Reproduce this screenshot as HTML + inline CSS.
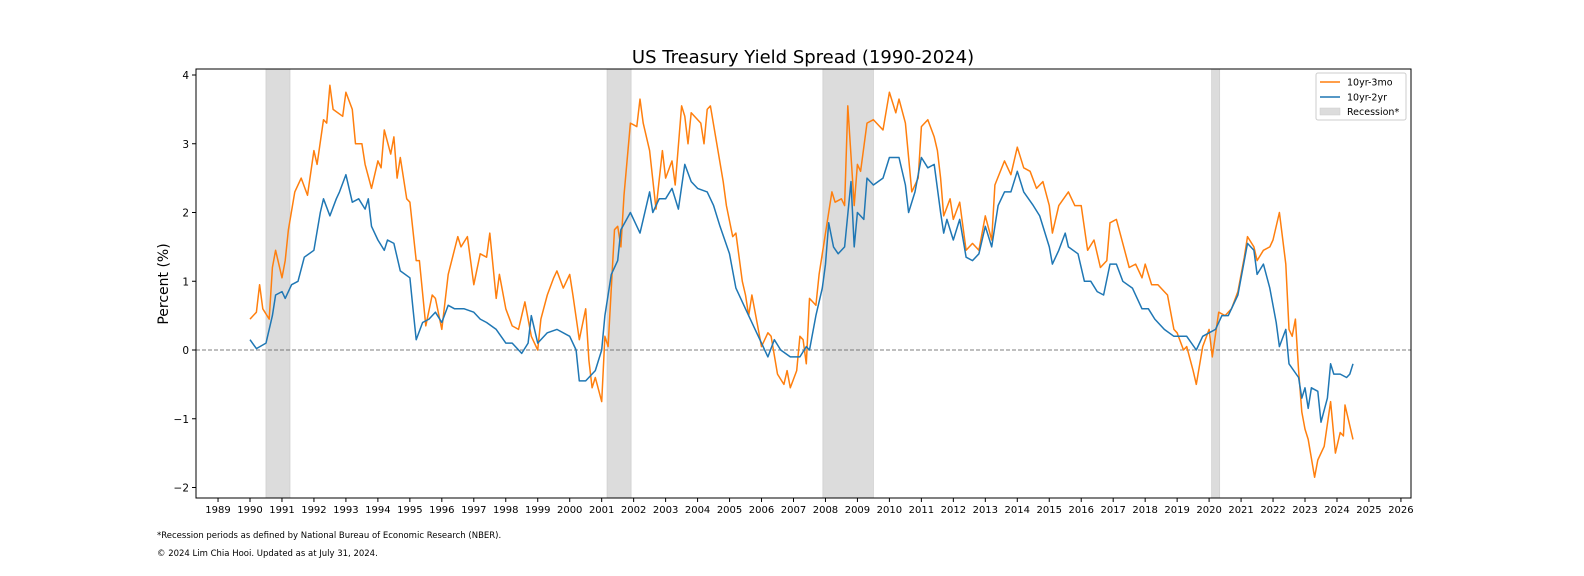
<!DOCTYPE html>
<html><head><meta charset="utf-8"><style>
html,body{margin:0;padding:0;background:#fff;overflow:hidden;width:1584px;height:576px}
svg{display:block}
svg text{font-family:"DejaVu Sans","Liberation Sans",sans-serif}
</style></head><body>
<svg id="chart" width="1584" height="576" xmlns="http://www.w3.org/2000/svg">
<rect width="1584" height="576" fill="#fff"/>
<text x="803" y="63" font-size="18" text-anchor="middle">US Treasury Yield Spread (1990-2024)</text>
<text transform="translate(168,284) rotate(-90)" font-size="14" text-anchor="middle">Percent (%)</text>
<g id="rec"></g><g id="grid"></g><g id="lines"></g><g id="axes"></g>
<g>
<rect x="1316" y="73" width="90" height="47" fill="#fff" stroke="#ccc" rx="2"/>
<line x1="1320" y1="82" x2="1340" y2="82" stroke="#ff7f0e" stroke-width="1.5"/><text x="1347" y="85.5" font-size="9.5">10yr-3mo</text>
<line x1="1320" y1="97" x2="1340" y2="97" stroke="#1f77b4" stroke-width="1.5"/><text x="1347" y="100.5" font-size="9.5">10yr-2yr</text>
<rect x="1320" y="108" width="20" height="7" fill="#dcdcdc" stroke="#ccc" stroke-width="0.5"/><text x="1347" y="115" font-size="9.5">Recession*</text>
</g>
<text x="157" y="538" font-size="8.5">*Recession periods as defined by National Bureau of Economic Research (NBER).</text>
<text x="157" y="556" font-size="8.5">© 2024 Lim Chia Hooi. Updated as at July 31, 2024.</text>
</svg>
<script>
const recStarts=[1990.5,2001.17,2007.92,2020.08];
const recEnds=[1991.25,2001.92,2009.5,2020.33];
const yTicks=[-2,-1,0,1,2,3,4];
const xTicks=[1989,1990,1991,1992,1993,1994,1995,1996,1997,1998,1999,2000,2001,2002,2003,2004,2005,2006,2007,2008,2009,2010,2011,2012,2013,2014,2015,2016,2017,2018,2019,2020,2021,2022,2023,2024,2025,2026];
const blueT=[1990.0,1990.2,1990.5,1990.7,1990.8,1991.0,1991.1,1991.3,1991.5,1991.7,1992.0,1992.2,1992.3,1992.5,1992.7,1992.8,1993.0,1993.2,1993.4,1993.6,1993.7,1993.8,1994.0,1994.2,1994.3,1994.5,1994.7,1995.0,1995.1,1995.2,1995.4,1995.6,1995.8,1996.0,1996.2,1996.4,1996.7,1997.0,1997.2,1997.4,1997.7,1998.0,1998.2,1998.5,1998.7,1998.8,1999.0,1999.3,1999.6,2000.0,2000.2,2000.3,2000.5,2000.8,2001.0,2001.1,2001.3,2001.5,2001.6,2001.9,2002.2,2002.3,2002.5,2002.6,2002.8,2003.0,2003.2,2003.4,2003.6,2003.8,2004.0,2004.3,2004.5,2004.7,2005.0,2005.2,2005.5,2005.8,2006.0,2006.2,2006.4,2006.6,2006.9,2007.2,2007.4,2007.5,2007.7,2007.9,2008.0,2008.1,2008.25,2008.4,2008.6,2008.8,2008.9,2009.0,2009.2,2009.3,2009.5,2009.8,2010.0,2010.3,2010.5,2010.6,2010.8,2011.0,2011.2,2011.4,2011.6,2011.7,2011.8,2012.0,2012.2,2012.4,2012.6,2012.8,2013.0,2013.2,2013.4,2013.6,2013.8,2014.0,2014.2,2014.5,2014.7,2015.0,2015.1,2015.3,2015.5,2015.6,2015.9,2016.1,2016.3,2016.5,2016.7,2016.9,2017.1,2017.3,2017.6,2017.9,2018.1,2018.3,2018.6,2018.9,2019.1,2019.3,2019.6,2019.8,2020.0,2020.2,2020.4,2020.6,2020.9,2021.1,2021.2,2021.4,2021.5,2021.7,2021.9,2022.1,2022.2,2022.4,2022.5,2022.8,2022.9,2023.0,2023.1,2023.2,2023.4,2023.5,2023.7,2023.8,2023.9,2024.1,2024.3,2024.4,2024.5];
const blueV=[0.15,0.02,0.1,0.5,0.8,0.85,0.75,0.95,1.0,1.35,1.45,2.0,2.2,1.95,2.2,2.3,2.55,2.15,2.2,2.05,2.2,1.8,1.6,1.45,1.6,1.55,1.15,1.05,0.6,0.15,0.4,0.45,0.55,0.4,0.65,0.6,0.6,0.55,0.45,0.4,0.3,0.1,0.1,-0.05,0.1,0.5,0.1,0.25,0.3,0.2,0.0,-0.45,-0.45,-0.3,0.0,0.5,1.1,1.3,1.75,2.0,1.7,1.9,2.3,2.0,2.2,2.2,2.35,2.05,2.7,2.45,2.35,2.3,2.1,1.8,1.4,0.9,0.6,0.3,0.1,-0.1,0.15,0.0,-0.1,-0.1,0.05,0.0,0.5,0.9,1.25,1.85,1.5,1.4,1.5,2.45,1.5,2.0,1.9,2.5,2.4,2.5,2.8,2.8,2.4,2.0,2.3,2.8,2.65,2.7,2.0,1.7,1.9,1.6,1.9,1.35,1.3,1.4,1.8,1.5,2.1,2.3,2.3,2.6,2.3,2.1,1.95,1.5,1.25,1.45,1.7,1.5,1.4,1.0,1.0,0.85,0.8,1.25,1.25,1.0,0.9,0.6,0.6,0.45,0.3,0.2,0.2,0.2,0.0,0.2,0.25,0.3,0.5,0.5,0.8,1.3,1.55,1.45,1.1,1.25,0.9,0.4,0.05,0.3,-0.2,-0.4,-0.7,-0.55,-0.85,-0.55,-0.6,-1.05,-0.7,-0.2,-0.35,-0.35,-0.4,-0.35,-0.2];
const orangeT=[1990.0,1990.2,1990.3,1990.4,1990.6,1990.7,1990.8,1991.0,1991.1,1991.2,1991.4,1991.6,1991.8,1992.0,1992.1,1992.3,1992.4,1992.5,1992.6,1992.9,1993.0,1993.2,1993.3,1993.5,1993.6,1993.8,1994.0,1994.1,1994.2,1994.4,1994.5,1994.6,1994.7,1994.9,1995.0,1995.2,1995.3,1995.5,1995.7,1995.8,1996.0,1996.2,1996.5,1996.6,1996.8,1997.0,1997.2,1997.4,1997.5,1997.7,1997.8,1998.0,1998.2,1998.4,1998.6,1998.8,1999.0,1999.1,1999.3,1999.5,1999.6,1999.8,2000.0,2000.1,2000.3,2000.5,2000.6,2000.7,2000.8,2001.0,2001.1,2001.2,2001.4,2001.5,2001.6,2001.7,2001.9,2002.1,2002.2,2002.3,2002.5,2002.7,2002.9,2003.0,2003.2,2003.3,2003.5,2003.6,2003.7,2003.8,2004.1,2004.2,2004.3,2004.4,2004.6,2004.8,2004.9,2005.1,2005.2,2005.4,2005.5,2005.6,2005.7,2005.9,2006.0,2006.2,2006.3,2006.5,2006.7,2006.8,2006.9,2007.1,2007.2,2007.3,2007.4,2007.5,2007.7,2007.8,2008.0,2008.2,2008.3,2008.5,2008.6,2008.7,2008.9,2009.0,2009.1,2009.3,2009.5,2009.8,2010.0,2010.2,2010.3,2010.5,2010.6,2010.7,2010.9,2011.0,2011.2,2011.4,2011.5,2011.6,2011.7,2011.9,2012.0,2012.2,2012.4,2012.6,2012.8,2013.0,2013.2,2013.3,2013.6,2013.8,2014.0,2014.2,2014.4,2014.6,2014.8,2015.0,2015.1,2015.3,2015.6,2015.8,2016.0,2016.2,2016.4,2016.6,2016.8,2016.9,2017.1,2017.3,2017.5,2017.7,2017.9,2018.0,2018.2,2018.4,2018.6,2018.7,2018.9,2019.0,2019.2,2019.3,2019.5,2019.6,2019.8,2020.0,2020.1,2020.3,2020.5,2020.7,2020.9,2021.1,2021.2,2021.4,2021.5,2021.7,2021.9,2022.0,2022.2,2022.4,2022.5,2022.6,2022.7,2022.8,2022.9,2023.0,2023.1,2023.3,2023.4,2023.6,2023.8,2023.95,2024.1,2024.2,2024.25,2024.5];
const orangeV=[0.45,0.55,0.95,0.6,0.45,1.2,1.45,1.05,1.3,1.75,2.3,2.5,2.25,2.9,2.7,3.35,3.3,3.85,3.5,3.4,3.75,3.5,3.0,3.0,2.7,2.35,2.75,2.65,3.2,2.85,3.1,2.5,2.8,2.2,2.15,1.3,1.3,0.35,0.8,0.75,0.3,1.1,1.65,1.5,1.65,0.95,1.4,1.35,1.7,0.75,1.1,0.6,0.35,0.3,0.7,0.2,0.0,0.45,0.8,1.05,1.15,0.9,1.1,0.8,0.15,0.6,-0.15,-0.55,-0.4,-0.75,0.2,0.05,1.75,1.8,1.5,2.25,3.3,3.25,3.65,3.3,2.9,2.05,2.9,2.5,2.75,2.4,3.55,3.4,3.0,3.45,3.3,3.0,3.5,3.55,3.0,2.45,2.1,1.65,1.7,1.0,0.8,0.5,0.8,0.3,0.05,0.25,0.2,-0.35,-0.5,-0.3,-0.55,-0.3,0.2,0.15,-0.2,0.75,0.65,1.1,1.7,2.3,2.15,2.2,2.1,3.55,2.1,2.7,2.6,3.3,3.35,3.2,3.75,3.45,3.65,3.3,2.8,2.3,2.5,3.25,3.35,3.1,2.9,2.5,1.95,2.2,1.9,2.15,1.45,1.55,1.45,1.95,1.6,2.4,2.75,2.55,2.95,2.65,2.6,2.35,2.45,2.1,1.7,2.1,2.3,2.1,2.1,1.45,1.6,1.2,1.3,1.85,1.9,1.55,1.2,1.25,1.05,1.25,0.95,0.95,0.85,0.8,0.3,0.25,0.0,0.05,-0.3,-0.5,0.05,0.3,-0.1,0.55,0.5,0.6,0.85,1.35,1.65,1.5,1.3,1.45,1.5,1.6,2.0,1.25,0.3,0.2,0.45,-0.3,-0.9,-1.15,-1.3,-1.85,-1.6,-1.4,-0.75,-1.5,-1.2,-1.25,-0.8,-1.3];

const L=196,R=1411,T=69,B=498;
const xs=y=>250+(y-1990)*31.97;
const ys=v=>350-v*68.75;
const NS='http://www.w3.org/2000/svg';
function mk(tag,attrs,parent){const e=document.createElementNS(NS,tag);for(const k in attrs)e.setAttribute(k,attrs[k]);parent.appendChild(e);return e;}
const rec=document.getElementById('rec');
recStarts.forEach((s,i)=>{
  const r=mk('rect',{x:xs(s),y:T,width:xs(recEnds[i])-xs(s),height:B-T,fill:'#dcdcdc',stroke:'#cfcfcf','stroke-width':0.8},rec);
  
  
});
const grid=document.getElementById('grid');
const zl=mk('line',{x1:L,x2:R,y1:ys(0),y2:ys(0),stroke:'#555','stroke-width':0.8,'stroke-dasharray':'4,2'},grid);


const lines=document.getElementById('lines');
function series(t,v,color,name){
  const d=t.map((x,i)=>(i?'L':'M')+xs(x).toFixed(1)+','+ys(v[i]).toFixed(1)).join('');
  const p=mk('path',{d:d,fill:'none',stroke:color,'stroke-width':1.5,'stroke-linejoin':'round'},lines);
  
  
}
series(orangeT,orangeV,'#ff7f0e','line-10yr-3mo');
series(blueT,blueV,'#1f77b4','line-10yr-2yr');
const ax=document.getElementById('axes');
const frame=mk('rect',{x:L,y:T,width:R-L,height:B-T,fill:'none',stroke:'#000','stroke-width':1},ax);


yTicks.forEach(v=>{
  mk('line',{x1:L-4,x2:L,y1:ys(v),y2:ys(v),stroke:'#000'},ax);
  const t=mk('text',{x:L-7,y:ys(v)+4,'font-size':10.5,'text-anchor':'end'},ax);
  t.textContent=(v<0?'\u2212'+(-v):v);
  
  
});
xTicks.forEach(y=>{
  mk('line',{x1:xs(y),x2:xs(y),y1:B,y2:B+4,stroke:'#000'},ax);
  const t=mk('text',{x:xs(y),y:B+15,'font-size':10,'text-anchor':'middle'},ax);
  t.textContent=y;
  
  
});
</script>
</body></html>
